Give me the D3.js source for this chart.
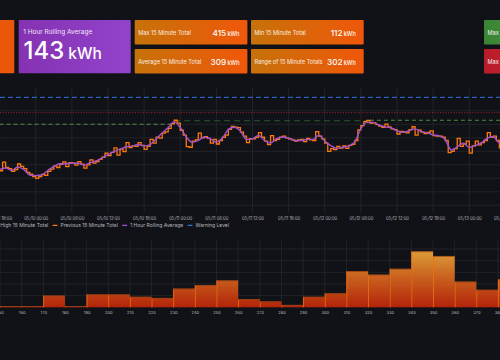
<!DOCTYPE html>
<html>
<head>
<meta charset="utf-8">
<script src="https://cdn.jsdelivr.net/npm/d3@7"></script>
<style>
  html, body { margin: 0; padding: 0; background: #111217; }
  svg { display: block; font-family: Inter, 'Noto Sans', sans-serif; }
</style>
</head>
<body>
<div id="wrapper"></div>
<script>
// ---- data ----
const statTitles = ['Max 15 Minute Total', 'Average 15 Minute Total', 'Min 15 Minute Total', 'Range of 15 Minute Totals'];
const statValues = [415, 309, 112, 302];
const rollingTitle = '1 Hour Rolling Average';
const rollingValue = 143;
const sideTitles = ['Max 15 Minute Total', 'Max 15 Minute Total'];

const seriesStart = new Date(2024, 4, 9, 18, 0);
// previous 15 minute total, sampled every 30 min (kWh)
const prevTotal = [
  228,260, 240,236, 226,232, 253,244, 236,222, 215,206, 200,206, 214,211, 226,234, 246,240,
  252,261, 243,258, 256,249, 262,252, 238,250, 268,256, 262,270, 278,293, 284,296, 313,286,
  308,299, 332,314, 320,318, 332,322, 307,318, 344,330, 352,349, 367,372, 385,402, 415,404,
  378,360, 317,315, 338,342, 367,350, 354,348, 330,344, 327,340, 352,360, 381,392, 389,388,
  371,356, 332,347, 346,352, 369,352, 338,325, 358,340, 344,352, 356,350, 346,342, 338,342,
  344,336, 348,342, 340,373, 356,346, 330,300, 310,306, 318,312, 320,311, 322,326, 340,379,
  395,410, 414,404, 405,399, 393,389, 401,390, 383,380, 364,374, 372,368, 380,391, 360,378,
  371,366, 370,376, 358,356, 356,352, 340,295, 300,310, 348,318, 327,338, 293,320, 338,324,
  332,340, 369,352, 356,340, 313,357, 344
];
// 1 hour rolling average, hourly (kWh)
const rollingAvg = [
  233,238,229,242,233,212,210,213,229,244, 254,254,256,256,249,257,264,275,288,299,
  308,316,319,325,320,325,346,368,388,409, 388,353,333,340,353,346,334,349,381,389,
  375,344,346,359,340,331,347,353,349,340, 340,344,344,359,338,321,311,315,320,336,
  384,407,407,397,391,387,376,370,376,383, 373,368,361,357,344,305,316,330,314,321,
  331,349,355,331,346
];
const dailyHighFrom = [new Date(2024, 4, 9, 18, 0), new Date(2024, 4, 10, 23, 0), new Date(2024, 4, 12, 7, 30)];
const dailyHighValues = [400, 413, 415];
const warningLevel = 500;
const maxThreshold = 443;

const legendNames = ['Daily High 15 Minute Total', 'Previous 15 Minute Total', '1 Hour Rolling Average', 'Warning Level'];
const legendColors = ['#56a64b', '#ff780a', '#a352cc', '#3274d9'];

const histBins = [150,160,170,180,190,200,210,220,230,240,250,260,270,280,290,300,310,320,330,340,350,360,370,380];
const histCounts = [1,1,10,1,11,11,9,8,16,19,23,7,5,2,9,12,31,28,33,48,44,22,15,24];

// ---- layout ----
const W = 500, H = 360;
const svg = d3.select('#wrapper').append('svg').attr('width', W).attr('height', H);
const defs = svg.append('defs');

function grad(id, c0, c1) {
  const g = defs.append('linearGradient').attr('id', id).attr('x1', 0).attr('x2', 1).attr('y1', 0).attr('y2', 0);
  g.append('stop').attr('offset', '0%').attr('stop-color', c0);
  g.append('stop').attr('offset', '100%').attr('stop-color', c1);
}
grad('gOrange', '#c6720a', '#f0570a');
grad('gPurple', '#8532b2', '#9243cb');
grad('gGreen', '#3a8434', '#43913e');
grad('gRed', '#b81c2a', '#c8222e');

// stat panels
svg.append('rect').attr('x', -10).attr('y', 20).attr('width', 24.3).attr('height', 53.3).attr('rx', 1).attr('fill', '#ea560a');

svg.append('rect').attr('x', 18.7).attr('y', 20).attr('width', 112).attr('height', 53.3).attr('rx', 1).attr('fill', 'url(#gPurple)');
svg.append('text').attr('x', 23.3).attr('y', 33.8).attr('fill', '#f0e6f6').attr('font-size', 6.5).text(rollingTitle);
const big = svg.append('text').attr('x', 23.5).attr('y', 58.5).attr('fill', '#ffffff').attr('font-weight', 500);
big.append('tspan').attr('font-size', 24).text(rollingValue);
big.append('tspan').attr('font-size', 15.5).attr('dx', 4).text('kWh');

const panelX = [134.7, 134.7, 251, 251];
const panelY = [20, 49, 20, 49];
statTitles.forEach(function (t, i) {
  svg.append('rect').attr('x', panelX[i]).attr('y', panelY[i]).attr('width', 112.7).attr('height', 24.4).attr('rx', 1).attr('fill', 'url(#gOrange)');
  svg.append('text').attr('x', panelX[i] + 3.5).attr('y', panelY[i] + 14.6).attr('fill', '#fbeee0').attr('font-size', 5.6).text(t);
  const v = svg.append('text').attr('x', panelX[i] + 104.8).attr('y', panelY[i] + 15.5).attr('text-anchor', 'end').attr('fill', '#fff').attr('font-weight', 500);
  v.append('tspan').attr('font-size', 8.2).text(statValues[i]);
  v.append('tspan').attr('font-size', 5.6).attr('dx', 1.2).text('kWh');
});
['url(#gGreen)', 'url(#gRed)'].forEach(function (f, i) {
  svg.append('rect').attr('x', 484).attr('y', panelY[i]).attr('width', 40).attr('height', 24.4).attr('rx', 1).attr('fill', f);
  svg.append('text').attr('x', 487.5).attr('y', panelY[i] + 14.6).attr('fill', '#f2f2f2').attr('font-size', 5.6).text(sideTitles[i]);
});

// ---- time series ----
const plotTop = 87, plotBottom = 213;
const x = d3.scaleTime()
  .domain([new Date(2024, 4, 9, 18, 0), new Date(2024, 4, 13, 6, 0)])
  .range([-0.4, 505.4]);
const y = d3.scaleLinear().domain([100, 500]).range([205.3, 97.3]);

const gridColor = '#222328';
const ts = svg.append('g');
ts.append('g').selectAll('line').data(x.ticks(d3.timeHour.every(6))).enter().append('line')
  .attr('x1', d => x(d)).attr('x2', d => x(d)).attr('y1', plotTop).attr('y2', plotBottom)
  .attr('stroke', gridColor).attr('stroke-width', 1);
ts.append('g').selectAll('line').data(d3.range(100, 451, 50)).enter().append('line')
  .attr('x1', 0).attr('x2', W).attr('y1', d => y(d)).attr('y2', d => y(d))
  .attr('stroke', gridColor).attr('stroke-width', 1);

const xAxis = d3.axisBottom(x).ticks(d3.timeHour.every(6)).tickFormat(d3.timeFormat('%m/%d %H:%M')).tickSize(0).tickPadding(0);
const xa = ts.append('g').attr('transform', 'translate(0,' + 216.8 + ')').call(xAxis);
xa.select('.domain').remove();
xa.selectAll('text').attr('fill', '#b6b7bf').attr('font-size', 4.2).attr('font-family', 'Inter');

// threshold & reference lines
ts.append('line').attr('x1', 0).attr('x2', W).attr('y1', y(warningLevel)).attr('y2', y(warningLevel))
  .attr('stroke', '#3274d9').attr('stroke-width', 1).attr('stroke-dasharray', '5,3');
ts.append('line').attr('x1', 0).attr('x2', W).attr('y1', y(maxThreshold)).attr('y2', y(maxThreshold))
  .attr('stroke', '#9e2435').attr('stroke-width', 1).attr('stroke-dasharray', '1,1.7');

const dhStyles = [
  { c: '#4f8f45', dash: '4,3' },
  { c: '#2d5a29', dash: '6,4' },
  { c: '#4f8f45', dash: '4,3' }
];
dailyHighFrom.forEach(function (t, i) {
  const tEnd = i < dailyHighFrom.length - 1 ? dailyHighFrom[i + 1] : x.domain()[1];
  ts.append('line').attr('x1', x(t)).attr('x2', x(tEnd))
    .attr('y1', y(dailyHighValues[i])).attr('y2', y(dailyHighValues[i]))
    .attr('stroke', dhStyles[i].c).attr('stroke-width', 1.1).attr('stroke-dasharray', dhStyles[i].dash);
});

const prevPts = prevTotal.map((v, i) => [d3.timeMinute.offset(seriesStart, i * 30), v]);
const avgPts = rollingAvg.map((v, i) => [d3.timeHour.offset(seriesStart, i), v]);

ts.append('path').datum(prevPts)
  .attr('d', d3.line().x(d => x(d[0])).y(d => y(d[1])).curve(d3.curveStepAfter))
  .attr('fill', 'none').attr('stroke', '#ff780a').attr('stroke-width', 1.3);
ts.append('path').datum(avgPts)
  .attr('d', d3.line().x(d => x(d[0])).y(d => y(d[1])).curve(d3.curveMonotoneX))
  .attr('fill', 'none').attr('stroke', '#a352cc').attr('stroke-width', 1.4);

// legend
const leg = svg.append('g').attr('font-size', 5).attr('fill', '#b6b7bf');
const widths = legendNames.map(function (n) {
  const t = leg.append('text').text(n);
  const w = t.node().getComputedTextLength();
  t.remove();
  return w;
});
let lx = 53 - 3.8 - widths[0] - 9;
legendNames.forEach(function (n, i) {
  leg.append('rect').attr('x', lx).attr('y', 224.7).attr('width', 5).attr('height', 1.2).attr('rx', 0.5).attr('fill', legendColors[i]);
  leg.append('text').attr('x', lx + 8).attr('y', 227).text(n);
  lx += 8 + widths[i] + 4.3;
});

// ---- histogram ----
const hx = d3.scaleLinear().domain([150, 380]).range([0, 498]);
const hy = d3.scaleLinear().domain([0, 50]).range([307.3, 249]);
const hTop = 241;

const hg = defs.append('linearGradient').attr('id', 'gBar').attr('gradientUnits', 'userSpaceOnUse')
  .attr('x1', 0).attr('x2', 0).attr('y1', hy(50)).attr('y2', hy(0));
hg.append('stop').attr('offset', '0%').attr('stop-color', '#dea33a');
hg.append('stop').attr('offset', '45%').attr('stop-color', '#cb6520');
hg.append('stop').attr('offset', '100%').attr('stop-color', '#b3240a');

const hist = svg.append('g');
hist.append('g').selectAll('line').data(d3.range(150, 381, 10)).enter().append('line')
  .attr('x1', d => hx(d)).attr('x2', d => hx(d)).attr('y1', hTop).attr('y2', hy(0))
  .attr('stroke', gridColor);
hist.append('g').selectAll('line').data(d3.range(10, 51, 10)).enter().append('line')
  .attr('x1', 0).attr('x2', W).attr('y1', d => hy(d)).attr('y2', d => hy(d))
  .attr('stroke', gridColor);

const bars = hist.append('g').selectAll('g').data(histBins).enter().append('g');
bars.append('rect')
  .attr('x', (d) => hx(d))
  .attr('y', (d, i) => hy(histCounts[i]))
  .attr('width', hx(160) - hx(150))
  .attr('height', (d, i) => hy(0) - hy(histCounts[i]))
  .attr('fill', 'url(#gBar)');
bars.append('line')
  .attr('x1', d => hx(d) + 0.4).attr('x2', d => hx(d) + 0.4)
  .attr('y1', (d, i) => hy(histCounts[i])).attr('y2', hy(0))
  .attr('stroke', '#f2740f').attr('stroke-width', 0.8);
bars.append('line')
  .attr('x1', d => hx(d)).attr('x2', d => hx(d + 10))
  .attr('y1', (d, i) => hy(histCounts[i]) + 0.4).attr('y2', (d, i) => hy(histCounts[i]) + 0.4)
  .attr('stroke', '#9a4214').attr('stroke-width', 0.8);

const hAxis = d3.axisBottom(hx).tickValues(d3.range(150, 381, 10)).tickSize(0).tickPadding(0);
const ha = hist.append('g').attr('transform', 'translate(0,310.8)').call(hAxis);
ha.select('.domain').remove();
ha.selectAll('text').attr('fill', '#b6b7bf').attr('font-size', 4.1).attr('font-family', 'Inter');
</script>
</body>
</html>
